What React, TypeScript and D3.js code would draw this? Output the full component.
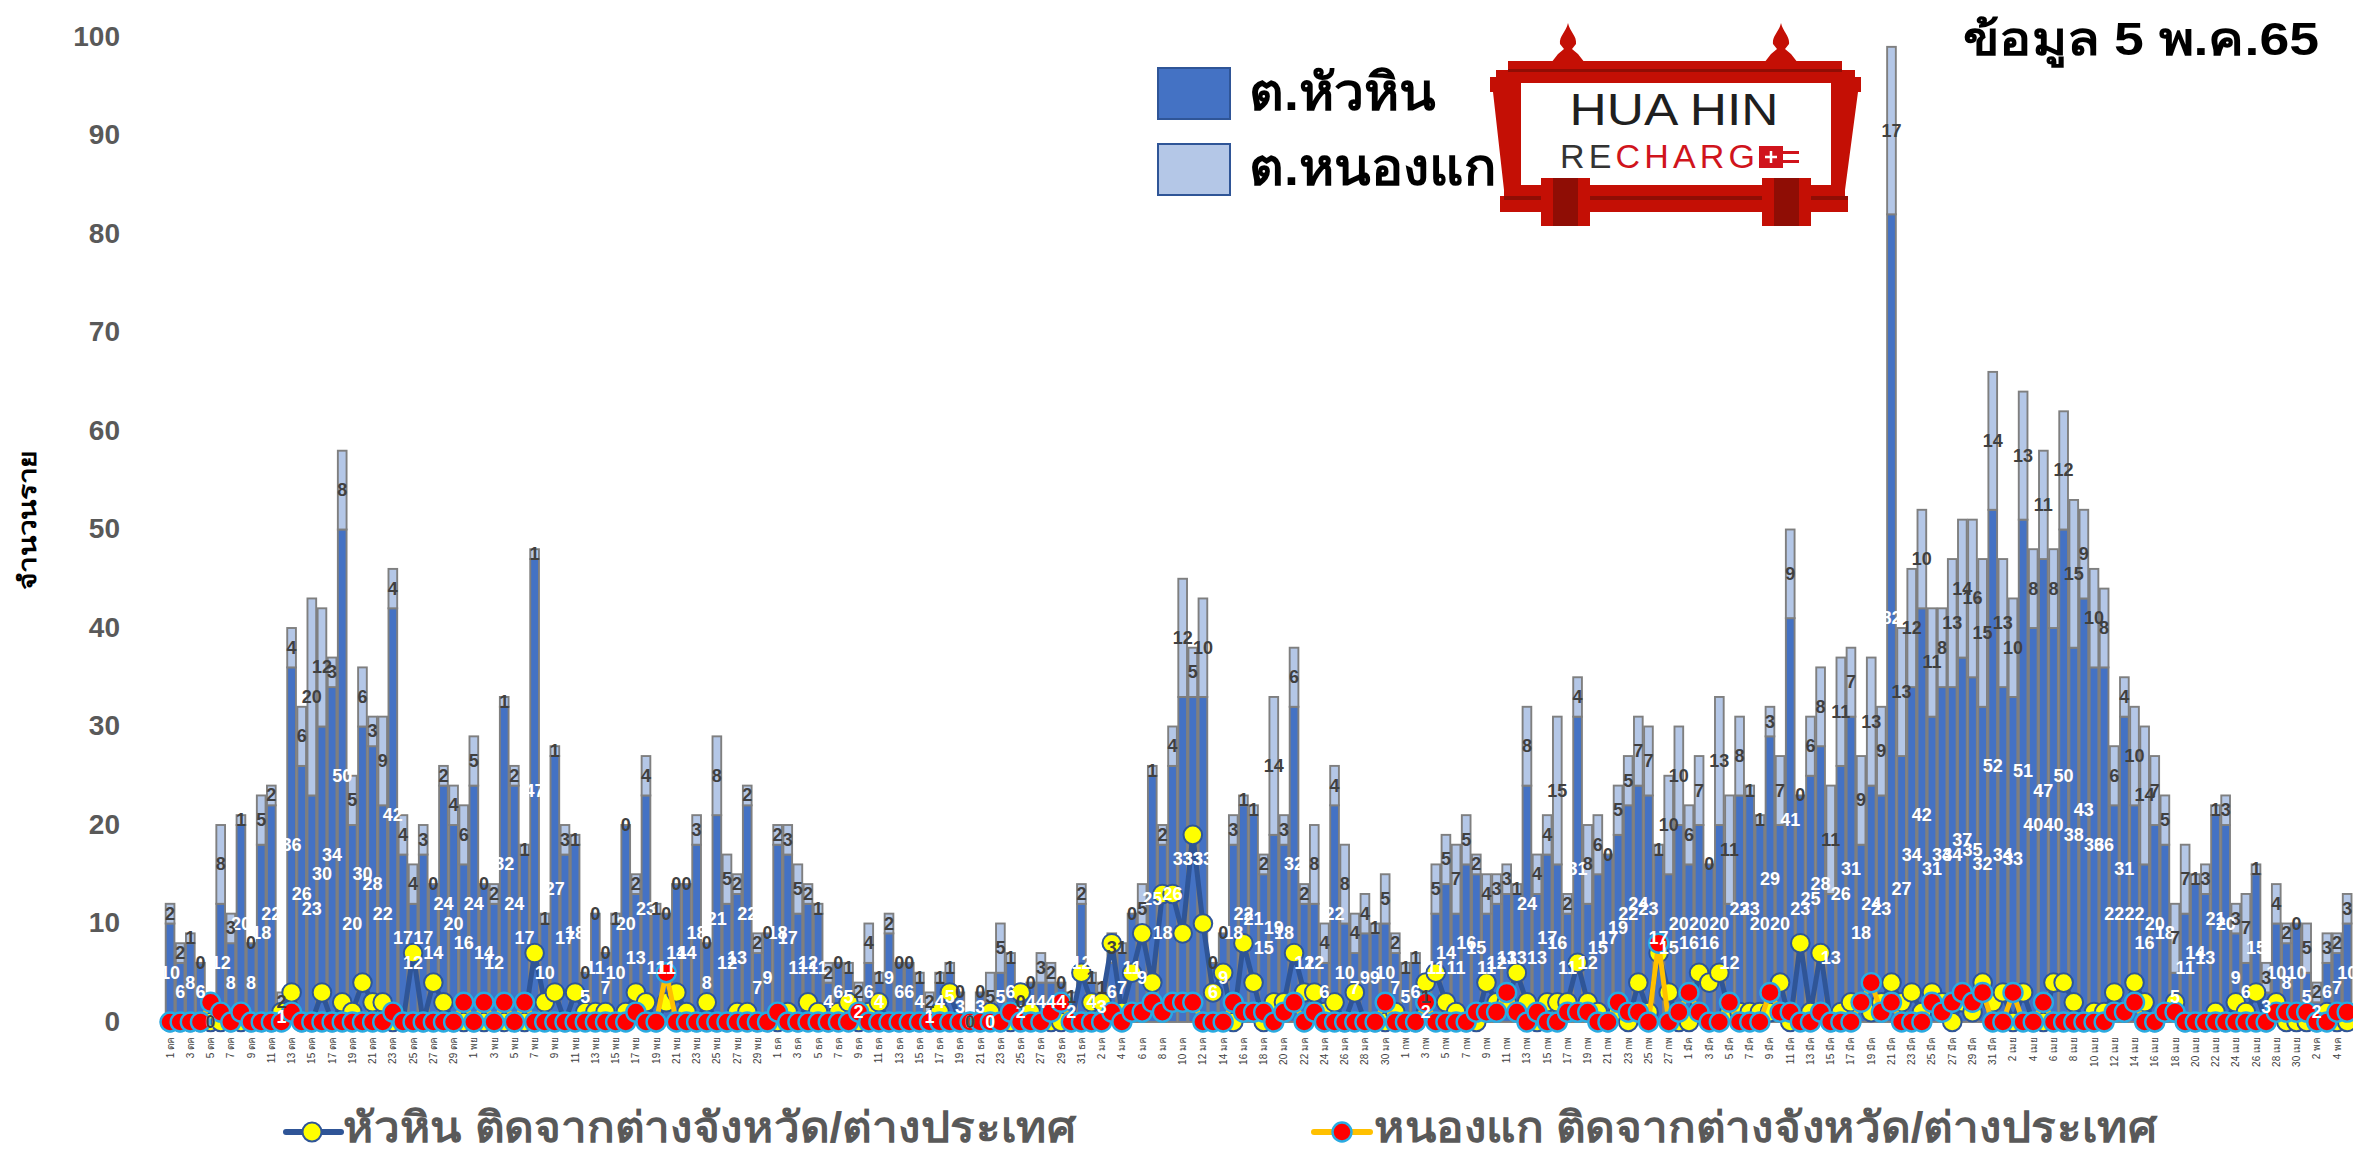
import React from "react";
import * as d3 from "d3";

const W = 2353, H = 1151;
const monthDays: [string, number][] = [["ตค",30],["พย",30],["ธค",31],["มค",31],["กพ",28],["มีค",31],["เมย",30],["พค",5]];
const categories: string[] = monthDays.flatMap(([m, n]) => Array.from({ length: n }, (_, k) => `${k + 1} ${m}`));

const huahin = [
10,6,8,6,0,12,8,20,8,18, 22,1,36,26,23,30,34,50,20,30, 28,22,42,17,12,17,14,24,20,16,
24,14,12,32,24,17,47,10,27,17, 18,5,11,7,10,20,13,23,11,11, 14,14,18,8,21,12,13,22,7,9,
18,17,11,12,11,4,6,5,2,6, 4,9,6,6,4,1,4,5,3,0, 3,0,5,6,2,4,4,4,4,2,
12,4,3,6,7,11,9,25,18,26, 33,33,33,6,9,18,22,21,15,19, 18,32,12,12,6,22,10,7,9,9,
10,7,5,6,2,11,14,11,16,15, 11,12,13,13,24,13,17,16,11,31, 12,15,17,19,22,24,23,17,15,20,
16,20,16,20,12,23,23,20,29,20, 41,23,25,28,13,26,31,18,24,23, 82,27,34,42,31,34,34,37,35,32,
52,34,33,51,40,47,40,50,38,43, 36,36,22,31,22,16,20,18,5,11, 14,13,21,20,9,6,15,3,10,8,
10,5,2,6,7,10];
const nongkae = [
2,2,1,0,0,8,3,1,0,5, 2,2,4,6,20,12,3,8,5,6, 3,9,4,4,4,3,0,2,4,6,
5,0,2,1,2,1,1,1,1,3, 1,0,0,0,1,0,2,4,1,0, 0,0,3,0,8,5,2,2,2,0,
2,3,5,2,1,2,0,1,2,4, 1,2,0,0,1,2,1,1,0,0, 0,5,5,1,0,0,3,2,0,1,
2,1,1,3,1,0,5,1,2,4, 12,5,10,0,0,3,1,1,2,14, 3,6,2,8,4,4,8,4,4,1,
5,2,1,1,1,5,5,7,5,2, 4,3,3,1,8,4,4,15,2,4, 8,6,0,5,5,7,7,1,10,10,
6,7,0,13,11,8,1,1,3,7, 9,0,6,8,11,11,7,9,13,9, 17,13,12,10,11,8,13,14,16,15,
14,13,10,13,8,11,8,12,15,9, 10,8,6,4,10,14,7,5,7,7, 1,3,1,3,3,7,1,3,4,2,
0,5,2,3,2,3];
const huahinImported = [
0,0,0,0,0,0,0,0,0,0, 0,1,3,0,0,3,0,2,1,4, 2,2,0,0,7,0,4,2,0,0,
0,0,0,0,0,0,7,2,3,0, 3,1,1,1,0,1,3,2,0,2, 3,1,0,2,0,0,1,1,0,0,
0,1,0,2,1,0,1,2,0,1, 2,0,0,0,0,0,1,3,0,0, 0,1,0,0,3,1,0,0,0,0,
5,2,2,8,1,5,9,4,13,13, 9,19,10,3,5,0,8,4,0,2, 2,7,3,3,1,2,0,3,0,0,
0,1,0,0,4,5,2,1,0,0, 4,2,2,5,2,0,2,2,2,6, 2,1,0,1,0,4,1,7,3,0,
0,5,4,5,1,1,1,1,1,4, 0,8,1,7,0,1,2,2,1,2, 4,2,3,1,3,2,0,2,1,4,
2,3,0,3,0,0,4,4,2,0, 1,1,3,1,4,2,0,1,2,0, 0,0,1,0,2,1,3,0,2,0,
0,0,0,1,0,0];
const nongkaeImported = [
0,0,0,0,2,1,0,1,0,0, 0,0,1,0,0,0,0,0,0,0, 0,0,1,0,0,0,0,0,0,2,
0,2,0,2,0,2,0,0,0,0, 0,0,0,0,0,0,1,0,0,5, 0,0,0,0,0,0,0,0,0,0,
1,0,0,0,0,0,0,0,1,0, 0,0,0,0,0,0,0,0,0,0, 0,0,0,1,0,0,0,1,2,0,
0,0,0,1,0,1,1,2,1,2, 2,2,0,0,0,2,1,1,1,0, 1,2,0,1,0,0,0,0,0,0,
2,0,0,0,2,0,0,0,0,1, 1,1,3,1,0,1,0,0,1,1, 1,0,0,2,1,1,0,8,0,1,
3,1,0,0,2,0,0,0,3,1, 1,0,0,1,0,0,0,2,4,1, 2,0,0,0,2,1,2,3,2,3,
0,0,3,0,0,2,0,0,0,0, 0,0,1,1,2,0,0,1,1,0, 0,0,0,0,0,0,0,0,1,1,
1,1,0,0,1,1];
const yTicks = [0,10,20,30,40,50,60,70,80,90,100];

const FONT = '"Liberation Sans","Noto Sans","DejaVu Sans",sans-serif';
const x = d3.scaleBand<number>().domain(categories.map((_, i) => i)).range([165, 165 + 216 * 10.126]).paddingInner(0.14).paddingOuter(0.07);
const y = d3.scaleLinear().domain([0, 100]).range([1022, 37]);
const cx = (i: number) => x(i)! + x.bandwidth() / 2;
const lineGen = (vals: number[]) => d3.line<number>().x((_, i) => cx(i)).y(d => y(d)).curve(d3.curveLinear)(vals)!;

function Logo() {
  const red = "#c40f05", dark = "#8f0d05";
  return (
    <g>
      {[1568, 1781].map(px => (
        <path key={px} d={`M${px} 23 C${px + 2} 32 ${px + 9} 36 ${px + 8} 44 L${px + 4} 49 L${px + 10} 54 L${px + 17} 63 L${px - 17} 63 L${px - 10} 54 L${px - 4} 49 L${px - 8} 44 C${px - 9} 36 ${px - 2} 32 ${px} 23Z`} fill={red} />
      ))}
      <path d="M1508 61H1842V70H1855V77H1861V92H1858L1845 190V196H1848V212H1500V196H1504V190L1493 92H1490V77H1496V70H1508Z" fill={red} />
      <rect x={1508} y={69} width={334} height={3} fill={dark} />
      <rect x={1521} y={83} width={310} height={102} fill="#ffffff" />
      <rect x={1504} y={196} width={344} height={4} fill={dark} />
      {[1541, 1762].map(px => (
        <g key={px}>
          <rect x={px} y={178} width={49} height={48} fill={red} />
          <rect x={px + 12} y={178} width={25} height={48} fill={dark} />
        </g>
      ))}
      <text x={1674} y={125} textAnchor="middle" fontFamily={FONT} fontSize={44} fill="#1f1f1f" textLength={209} lengthAdjust="spacingAndGlyphs">HUA HIN</text>
      <text x={1560} y={168} fontFamily={FONT} fontSize={34} textLength={195} lengthAdjust="spacing">
        <tspan fill="#333333">RE</tspan><tspan fill="#d0141c">CHARG</tspan>
      </text>
      <rect x={1759} y={146} width={24} height={22} fill="#d0141c" />
      <path d="M1783 151h16v3h-16zM1783 160h16v3h-16z" fill="#d0141c" />
      <path d="M1771 151v12M1765 157h12" stroke="#ffffff" strokeWidth={2.5} />
    </g>
  );
}

export default function App() {
  return (
    <svg width={W} height={H} viewBox={`0 0 ${W} ${H}`} style={{ position: "absolute", left: 0, top: 0, display: "block", background: "#fff" }}>
      <line x1={165} x2={W} y1={y(0)} y2={y(0)} stroke="#d9d9d9" strokeWidth={2} />
      {/* stacked bars */}
      {categories.map((_, i) => huahin[i] > 0 ? (
        <rect key={"b" + i} x={x(i)} width={x.bandwidth()} y={y(huahin[i])} height={y(0) - y(huahin[i])} fill="#4472C4" stroke="#7f7f7f" strokeWidth={1.9} />
      ) : null)}
      {categories.map((_, i) => nongkae[i] > 0 ? (
        <rect key={"l" + i} x={x(i)} width={x.bandwidth()} y={y(huahin[i] + nongkae[i])} height={y(huahin[i]) - y(huahin[i] + nongkae[i])} fill="#B4C7E7" stroke="#7f7f7f" strokeWidth={1.9} />
      ) : null)}
      {/* lines */}
      <path d={lineGen(huahinImported)} fill="none" stroke="#2F5597" strokeWidth={5} />
      {huahinImported.map((v, i) => (
        <circle key={"y" + i} cx={cx(i)} cy={y(v)} r={9.3} fill="#FFFF00" stroke="#2F5597" strokeWidth={2} />
      ))}
      <path d={lineGen(nongkaeImported)} fill="none" stroke="#FFC000" strokeWidth={5} />
      {nongkaeImported.map((v, i) => (
        <circle key={"r" + i} cx={cx(i)} cy={y(v)} r={9.5} fill="#FF0000" stroke="#29ABE2" strokeWidth={2.4} />
      ))}
      {/* data labels */}
      <g fontFamily={FONT} fontSize={18} fontWeight={600} textAnchor="middle" dominantBaseline="central">
        {huahin.map((v, i) => (
          <text key={"tb" + i} x={cx(i)} y={y(v / 2)} fill="#ffffff">{v}</text>
        ))}
        {nongkae.map((v, i) => (
          <text key={"tl" + i} x={cx(i)} y={y(huahin[i] + v / 2)} fill="#404040">{v}</text>
        ))}
      </g>
      {/* x axis */}
      <g fontFamily={FONT} fontSize={10} fill="#404040" textAnchor="end">
        {categories.map((c, i) => i % 2 === 0 ? (
          <text key={"x" + i} transform={`translate(${cx(i) + 3.5},1037) rotate(-90)`}>{c}</text>
        ) : null)}
      </g>
      {/* y axis */}
      <g fontFamily={FONT} fontSize={28} fontWeight={700} fill="#595959" textAnchor="end">
        {yTicks.map(t => (
          <text key={t} x={120} y={y(t) - 1} dominantBaseline="central">{t}</text>
        ))}
      </g>
      <text transform="translate(36,520) rotate(-90)" textAnchor="middle" fontFamily={FONT} fontWeight={700} fontSize={24} fill="#000" textLength={140} lengthAdjust="spacingAndGlyphs">จำนวนราย</text>
      {/* top legend */}
      <rect x={1158} y={68} width={72} height={51} fill="#4472C4" stroke="#2F5597" strokeWidth={2} />
      <rect x={1158} y={144} width={72} height={51} fill="#B4C7E7" stroke="#2F5597" strokeWidth={2} />
      <text x={1249} y={110} fontFamily={FONT} fontWeight={700} fontSize={52} fill="#000" textLength={187} lengthAdjust="spacingAndGlyphs">ต.หัวหิน</text>
      <text x={1249} y={185} fontFamily={FONT} fontWeight={700} fontSize={52} fill="#000" textLength={247} lengthAdjust="spacingAndGlyphs">ต.หนองแก</text>
      <Logo />
      <text x={1963} y={55} fontFamily={FONT} fontWeight={700} fontSize={46} fill="#000" textLength={356} lengthAdjust="spacingAndGlyphs">ข้อมูล 5 พ.ค.65</text>
      {/* bottom legend */}
      <line x1={286} x2={341} y1={1132} y2={1132} stroke="#2F5597" strokeWidth={6} strokeLinecap="round" />
      <circle cx={312} cy={1132} r={9.5} fill="#FFFF00" stroke="#2F5597" strokeWidth={2} />
      <text x={343} y={1142} fontFamily={FONT} fontWeight={700} fontSize={42} fill="#595959" textLength={733} lengthAdjust="spacingAndGlyphs">หัวหิน ติดจากต่างจังหวัด/ต่างประเทศ</text>
      <line x1={1314} x2={1370} y1={1132} y2={1132} stroke="#FFC000" strokeWidth={6} strokeLinecap="round" />
      <circle cx={1342} cy={1132} r={9.5} fill="#FF0000" stroke="#29ABE2" strokeWidth={2.4} />
      <text x={1374} y={1142} fontFamily={FONT} fontWeight={700} fontSize={42} fill="#595959" textLength={783} lengthAdjust="spacingAndGlyphs">หนองแก ติดจากต่างจังหวัด/ต่างประเทศ</text>
    </svg>
  );
}
